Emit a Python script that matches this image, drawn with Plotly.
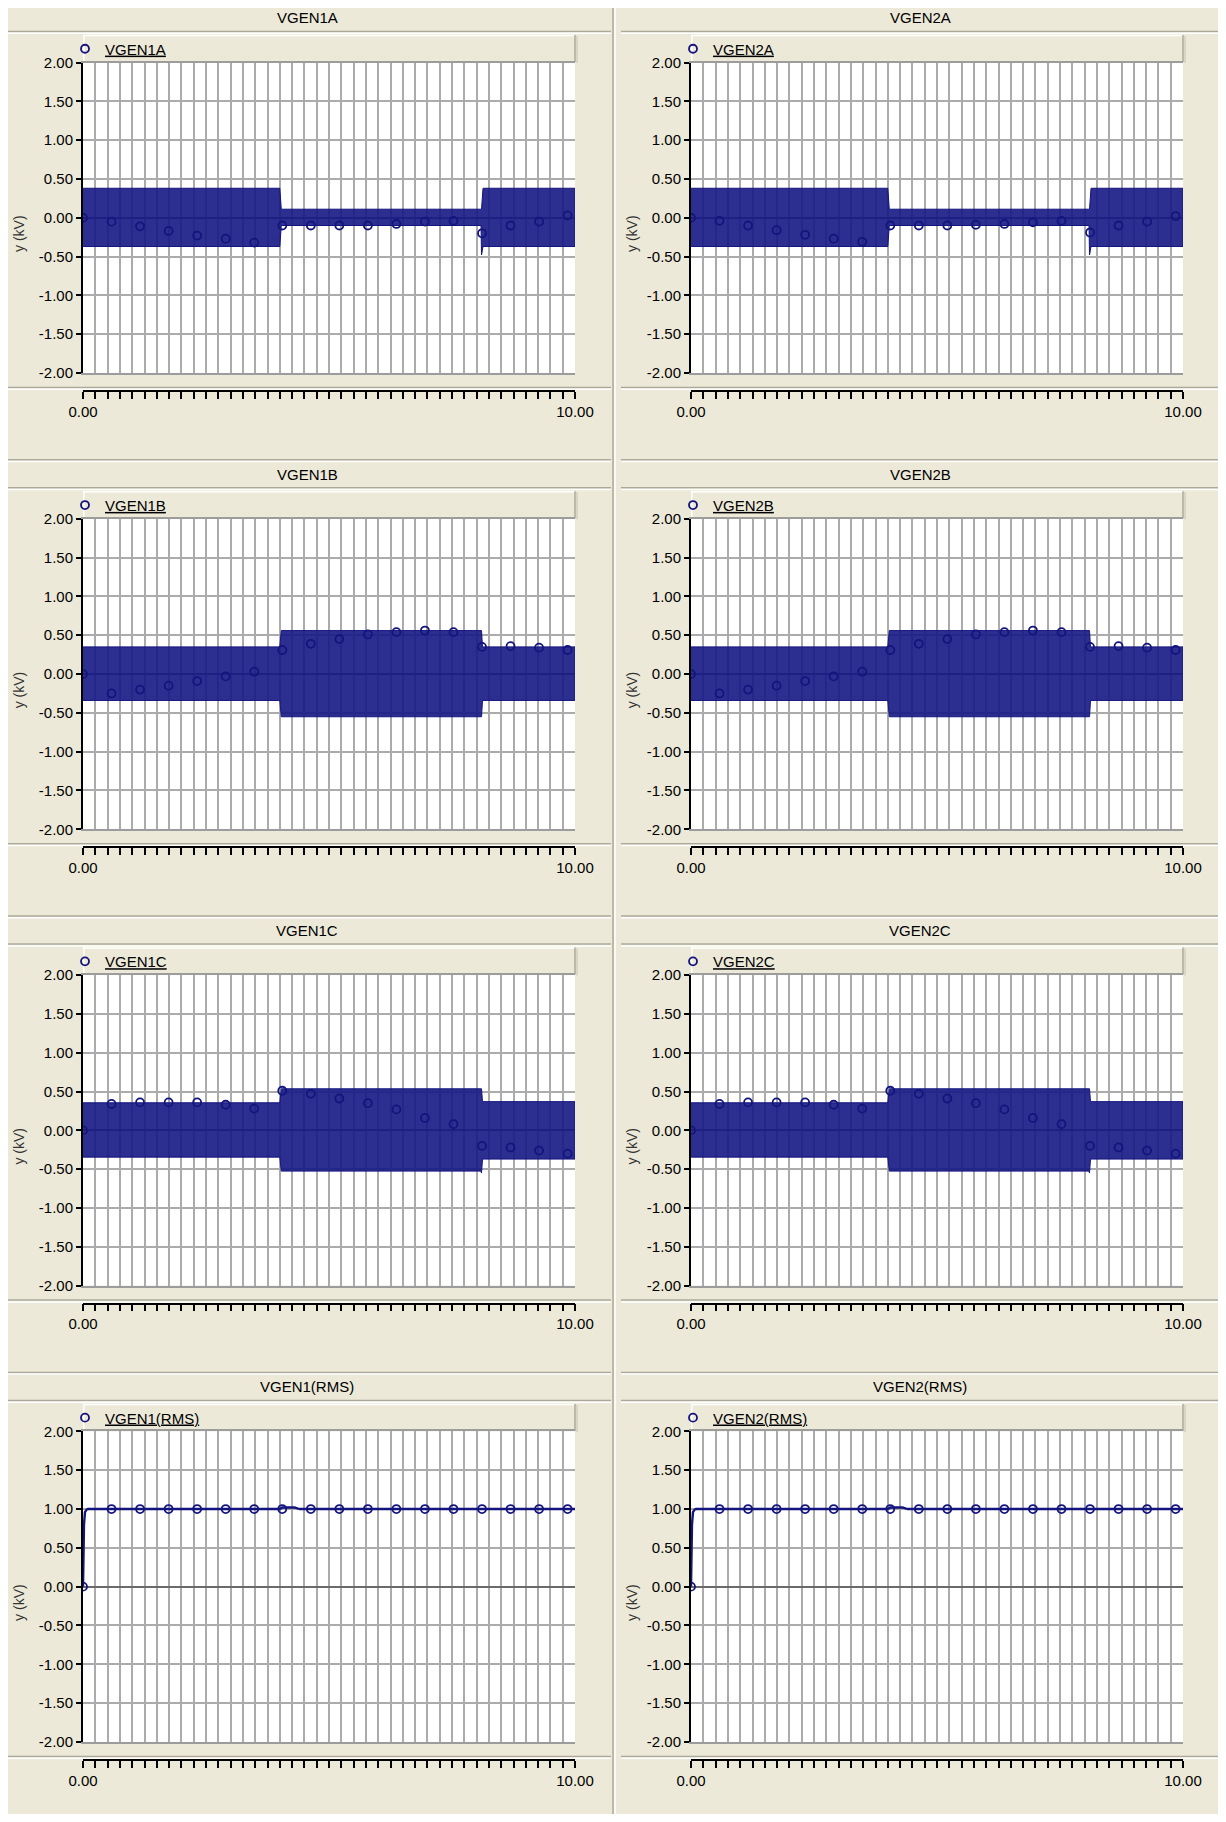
import plotly.graph_objects as go

# page is 1226x1822; the browser body keeps an 8 px margin, so the figure is 16 px smaller
OFF = 8
W, H = 1226 - 2 * OFF, 1822 - 2 * OFF

# ---------------- data ----------------
marker_t = [0.00, 0.58, 1.16, 1.74, 2.32, 2.90, 3.48, 4.05, 4.63, 5.21,
            5.79, 6.37, 6.95, 7.53, 8.11, 8.69, 9.27, 9.85]

# envelopes of the dense 60 Hz waveforms (time, upper, lower)
vgen1a_t = [0.00, 4.00, 4.03, 8.09, 8.10, 8.13, 10.00]
vgen1a_up = [0.38, 0.38, 0.11, 0.11, 0.11, 0.38, 0.38]
vgen1a_lo = [-0.37, -0.37, -0.10, -0.10, -0.48, -0.37, -0.37]
vgen1a_mk = [0.00, -0.05, -0.11, -0.17, -0.23, -0.27, -0.32, -0.10, -0.10,
             -0.10, -0.10, -0.08, -0.05, -0.04, -0.20, -0.10, -0.05, 0.03]

vgen2a_t = [0.00, 4.00, 4.03, 8.09, 8.10, 8.13, 10.00]
vgen2a_up = [0.38, 0.38, 0.11, 0.11, 0.11, 0.38, 0.38]
vgen2a_lo = [-0.37, -0.37, -0.10, -0.10, -0.48, -0.37, -0.37]
vgen2a_mk = [0.00, -0.04, -0.10, -0.16, -0.22, -0.27, -0.31, -0.10, -0.10,
             -0.10, -0.09, -0.08, -0.06, -0.04, -0.19, -0.10, -0.05, 0.02]

vgen1b_t = [0.00, 4.00, 4.03, 8.10, 8.12, 10.00]
vgen1b_up = [0.35, 0.35, 0.56, 0.56, 0.35, 0.35]
vgen1b_lo = [-0.34, -0.34, -0.55, -0.55, -0.34, -0.34]
vgen1b_mk = [0.00, -0.25, -0.20, -0.15, -0.09, -0.03, 0.03, 0.31, 0.39,
             0.45, 0.51, 0.54, 0.56, 0.54, 0.35, 0.36, 0.34, 0.31]

vgen2b_t = [0.00, 4.00, 4.03, 8.10, 8.12, 10.00]
vgen2b_up = [0.35, 0.35, 0.56, 0.56, 0.35, 0.35]
vgen2b_lo = [-0.34, -0.34, -0.55, -0.55, -0.34, -0.34]
vgen2b_mk = [0.00, -0.25, -0.20, -0.15, -0.09, -0.03, 0.03, 0.31, 0.39,
             0.45, 0.51, 0.54, 0.56, 0.54, 0.35, 0.36, 0.34, 0.31]

vgen1c_t = [0.00, 4.00, 4.03, 8.09, 8.10, 8.12, 10.00]
vgen1c_up = [0.355, 0.355, 0.535, 0.535, 0.535, 0.37, 0.37]
vgen1c_lo = [-0.345, -0.345, -0.525, -0.525, -0.55, -0.37, -0.37]
vgen1c_mk = [0.00, 0.34, 0.36, 0.36, 0.36, 0.33, 0.28, 0.51, 0.47,
             0.41, 0.35, 0.27, 0.16, 0.08, -0.20, -0.22, -0.26, -0.30]

vgen2c_t = [0.00, 4.00, 4.03, 8.09, 8.10, 8.12, 10.00]
vgen2c_up = [0.355, 0.355, 0.535, 0.535, 0.535, 0.37, 0.37]
vgen2c_lo = [-0.345, -0.345, -0.525, -0.525, -0.55, -0.37, -0.37]
vgen2c_mk = [0.00, 0.34, 0.36, 0.36, 0.36, 0.33, 0.28, 0.51, 0.47,
             0.41, 0.35, 0.27, 0.16, 0.08, -0.20, -0.22, -0.26, -0.30]

rms_t = [0.00, 0.005, 0.02, 0.04, 0.07, 0.10, 4.00, 4.05, 4.30, 4.40, 10.00]
vgen1rms = [0.00, 0.40, 0.80, 0.96, 0.99, 1.00, 1.00, 1.02, 1.02, 1.00, 1.00]
vgen2rms = [0.00, 0.40, 0.80, 0.96, 0.99, 1.00, 1.00, 1.02, 1.02, 1.00, 1.00]
vgen1rms_mk = [0.00] + [1.00] * 17
vgen2rms_mk = [0.00] + [1.00] * 17

y_tickvals = [2.0, 1.5, 1.0, 0.5, 0.0, -0.5, -1.0, -1.5, -2.0]
y_ticktext = ["2.00", "1.50", "1.00", "0.50", "0.00", "-0.50", "-1.00", "-1.50", "-2.00"]
x_tickvals = [0, 10]
x_ticktext = ["0.00", "10.00"]

panels = [
    # title, col, row, kind, t, upper/line, lower, markers
    ("VGEN1A", 0, 0, "band", vgen1a_t, vgen1a_up, vgen1a_lo, vgen1a_mk),
    ("VGEN2A", 1, 0, "band", vgen2a_t, vgen2a_up, vgen2a_lo, vgen2a_mk),
    ("VGEN1B", 0, 1, "band", vgen1b_t, vgen1b_up, vgen1b_lo, vgen1b_mk),
    ("VGEN2B", 1, 1, "band", vgen2b_t, vgen2b_up, vgen2b_lo, vgen2b_mk),
    ("VGEN1C", 0, 2, "band", vgen1c_t, vgen1c_up, vgen1c_lo, vgen1c_mk),
    ("VGEN2C", 1, 2, "band", vgen2c_t, vgen2c_up, vgen2c_lo, vgen2c_mk),
    ("VGEN1(RMS)", 0, 3, "line", rms_t, vgen1rms, None, vgen1rms_mk),
    ("VGEN2(RMS)", 1, 3, "line", rms_t, vgen2rms, None, vgen2rms_mk),
]

# ---------------- styling / geometry (page pixel coordinates) ----------------
BEIGE = "#ECE9D8"
SHADOW = "#ACA899"
NAVY = "#14147f"
GRID = "#ababab"
FONT = "Liberation Sans, Arial, sans-serif"
ROW_H = 456.3
COL_W = 613
PLOT_X = [(83, 575), (691, 1183)]


def X(p):
    return (p - OFF) / W


def Y(p):
    return 1 - (p - OFF) / H


fig = go.Figure()
layout = dict(
    width=W, height=H, margin=dict(l=0, r=0, t=0, b=0, autoexpand=False),
    paper_bgcolor=BEIGE, plot_bgcolor="white", showlegend=True,
)
shapes = []
annotations = []


def hline(x0, x1, y, color, w=1.5):
    shapes.append(dict(type="line", xref="paper", yref="paper", x0=X(x0), x1=X(x1),
                       y0=Y(y), y1=Y(y), line=dict(color=color, width=w), layer="below"))


def vline(x, y0, y1, color, w=1.5):
    shapes.append(dict(type="line", xref="paper", yref="paper", x0=X(x), x1=X(x),
                       y0=Y(y0), y1=Y(y1), line=dict(color=color, width=w), layer="below"))


for i, (title, col, row, kind, t, a, b, mk) in enumerate(panels):
    k = i + 1
    xs = "" if k == 1 else str(k)
    R = ROW_H * row
    cx0 = COL_W * col
    px0, px1 = PLOT_X[col]
    xdom = [X(px0), X(px1)]
    ydom = [Y(R + 373), Y(R + 62.5)]

    if kind == "band":
        fig.add_trace(go.Scatter(
            x=t + t[::-1], y=a + b[::-1], mode="lines", fill="toself",
            fillcolor="rgba(22,24,132,0.90)", line=dict(color=NAVY, width=1),
            xaxis="x" + xs, yaxis="y" + xs, showlegend=False, hoverinfo="skip"))
    else:
        fig.add_trace(go.Scatter(
            x=t, y=a, mode="lines", line=dict(color=NAVY, width=2.4),
            xaxis="x" + xs, yaxis="y" + xs, showlegend=False, hoverinfo="skip"))
    leg = "legend" if k == 1 else "legend" + str(k)
    fig.add_trace(go.Scatter(
        x=marker_t, y=mk, mode="markers", name=title,
        marker=dict(symbol="circle-open", size=8, color=NAVY, line=dict(width=1.8, color=NAVY)),
        xaxis="x" + xs, yaxis="y" + xs, legend=leg))
    # helper trace so that the tick-strip axis forms a subplot
    fig.add_trace(go.Scatter(x=[0, 10], y=[None, None], mode="lines",
                             xaxis="x" + str(8 + k), yaxis="y" + xs,
                             showlegend=False, hoverinfo="skip"))

    layout["xaxis" + xs] = dict(
        domain=xdom, anchor="y" + xs, range=[0, 10], tickmode="linear", tick0=0, dtick=0.25,
        showticklabels=False, ticks="", showgrid=True, gridcolor=GRID, gridwidth=1.8,
        zeroline=False, showline=True, linecolor="#9c9c9c", linewidth=1.5, mirror=True,
        fixedrange=True, automargin=False)
    layout["yaxis" + xs] = dict(
        domain=ydom, anchor="x" + xs, range=[-2, 2], tickmode="array",
        tickvals=y_tickvals, ticktext=y_ticktext, ticks="outside", ticklen=5, tickwidth=1.5,
        tickcolor="black", showline=True, linecolor="black", linewidth=2,
        showgrid=True, gridcolor=GRID, gridwidth=1.8,
        zeroline=True, zerolinecolor="#6a6a6a", zerolinewidth=2,
        tickfont=dict(family=FONT, size=15, color="black"), fixedrange=True, automargin=False)
    layout["xaxis" + str(8 + k)] = dict(
        domain=xdom, overlaying="x" + xs, anchor="free", position=Y(R + 391),
        side="bottom", range=[0, 10], tickmode="array", tickvals=x_tickvals,
        ticktext=x_ticktext, ticks="outside", ticklen=7, tickwidth=1.5, tickcolor="black",
        minor=dict(ticks="outside", tick0=0, dtick=0.25, ticklen=7, tickwidth=1.5,
                   tickcolor="black", showgrid=False),
        showline=True, linecolor="black", linewidth=1.5, showgrid=False, zeroline=False,
        tickfont=dict(family=FONT, size=15, color="black"), fixedrange=True, automargin=False)
    layout[leg] = dict(
        x=X(px0 - 18), xanchor="left", y=Y(R + 49), yanchor="middle",
        bgcolor="rgba(0,0,0,0)", borderwidth=0,
        font=dict(family=FONT, size=15, color="black", lineposition="under"),
        itemclick=False, itemdoubleclick=False)

    # title band text
    annotations.append(dict(text=title, xref="paper", yref="paper", x=X(cx0 + 307),
                            y=Y(R + 18), xanchor="center", yanchor="middle", showarrow=False,
                            font=dict(family=FONT, size=15, color="black")))
    # y-axis label
    annotations.append(dict(text="y (kV)", xref="paper", yref="paper", x=X(cx0 + 19),
                            y=Y(R + 234), xanchor="center", yanchor="middle", showarrow=False,
                            textangle=-90, font=dict(family=FONT, size=14, color="#333333")))

    # decorative frame lines of the panel
    left, right = cx0 + 8, cx0 + 611
    if row > 0:
        hline(left, right, R + 3.5, SHADOW)
        hline(left, right, R + 5.2, "white")
    hline(left, right, R + 31.5, SHADOW)
    hline(left, right, R + 33.3, "white")
    hline(left, right, R + 387.5, SHADOW)
    hline(left, right, R + 389.3, "white")
    # legend band
    shapes.append(dict(type="rect", xref="paper", yref="paper", x0=X(px0), x1=X(px1),
                       y0=Y(R + 62), y1=Y(R + 35), fillcolor=BEIGE,
                       line=dict(width=0), layer="below"))
    hline(px0, px1, R + 35.5, "white", 1.5)
    vline(px0 + 0.8, R + 35, R + 62, "white", 1.5)
    vline(px1, R + 35, R + 62, SHADOW, 1.5)
    vline(px1 + 2, R + 36, R + 63, "#d2cfbf", 1.5)

# column separator
vline(COL_W, OFF, H + OFF, SHADOW, 1.5)
vline(COL_W + 2, OFF, H + OFF, "white", 1.5)

layout["shapes"] = shapes
layout["annotations"] = annotations
fig.update_layout(**layout)
fig.write_html("out.html")
